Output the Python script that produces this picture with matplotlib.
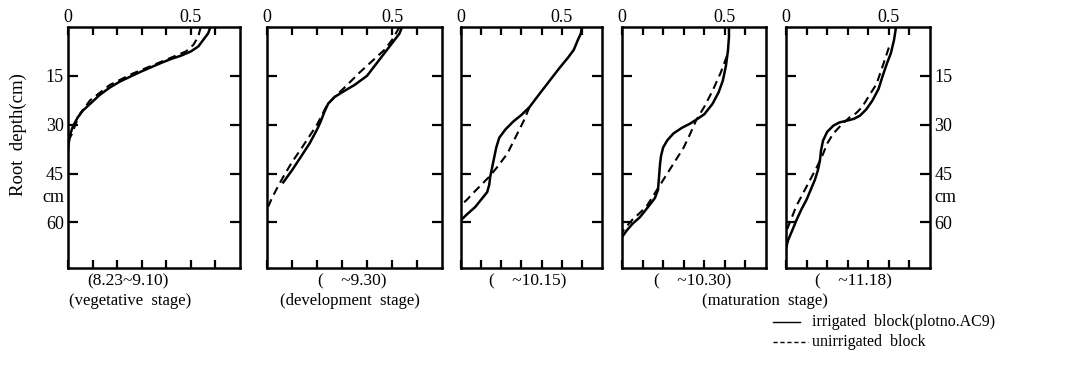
import matplotlib
matplotlib.use('Agg')
import matplotlib.pyplot as plt

plt.rcParams['font.family'] = ['Liberation Serif', 'DejaVu Serif']

# root density vs depth (x value, depth cm)
irr1_x = [0.58, 0.57, 0.55, 0.53, 0.50, 0.46, 0.42, 0.38, 0.34, 0.30, 0.26, 0.21, 0.17, 0.13, 0.09, 0.06, 0.04, 0.02, 0.01, 0.003, 0.0]
irr1_d = [0.0, 2.0, 4.0, 6.0, 7.5, 8.8, 9.8, 11.0, 12.3, 13.6, 15.0, 16.8, 18.6, 20.8, 23.6, 25.7, 27.7, 30.5, 32.7, 35.5, 38.0]
unr1_x = [0.54, 0.53, 0.51, 0.48, 0.42, 0.34, 0.26, 0.17, 0.09, 0.05, 0.03, 0.015, 0.0]
unr1_d = [0.0, 3.0, 5.5, 7.5, 9.4, 11.9, 14.4, 17.8, 22.5, 26.5, 30.0, 33.0, 35.0]

irr2_x = [0.54, 0.53, 0.51, 0.48, 0.44, 0.40, 0.35, 0.31, 0.27, 0.245, 0.23, 0.215, 0.20, 0.17, 0.13, 0.10, 0.065]
irr2_d = [0.0, 2.0, 4.0, 7.0, 11.0, 15.0, 17.8, 19.6, 21.5, 23.5, 26.0, 29.0, 31.5, 35.8, 40.5, 44.0, 47.7]
unr2_x = [0.53, 0.50, 0.47, 0.42, 0.37, 0.31, 0.27, 0.24, 0.22, 0.20, 0.17, 0.14, 0.10, 0.065, 0.04, 0.02, 0.0]
unr2_d = [0.0, 4.0, 7.0, 10.5, 14.0, 18.6, 21.5, 24.0, 27.0, 30.0, 33.5, 37.0, 41.5, 46.0, 49.5, 52.5, 56.0]

irr3_x = [0.60, 0.595, 0.58, 0.56, 0.53, 0.49, 0.44, 0.39, 0.34, 0.30, 0.26, 0.22, 0.19, 0.175, 0.165, 0.155, 0.145, 0.14, 0.13, 0.10, 0.07, 0.03, 0.0]
irr3_d = [0.0, 2.0, 4.0, 7.0, 9.5, 12.5, 16.5, 20.5, 24.6, 27.0, 29.0, 31.5, 34.0, 37.0, 40.0, 43.0, 46.0, 48.5, 50.7, 53.0, 55.3, 57.5, 59.3]
unr3_x = [0.34, 0.31, 0.28, 0.23, 0.18, 0.14, 0.10, 0.06, 0.03, 0.0]
unr3_d = [24.6, 29.0, 32.7, 38.9, 43.0, 46.0, 48.5, 51.0, 53.0, 54.7]

irr4_x = [0.52, 0.52, 0.515, 0.505, 0.49, 0.47, 0.44, 0.40, 0.36, 0.33, 0.29, 0.25, 0.22, 0.20, 0.19, 0.185, 0.18, 0.175, 0.16, 0.13, 0.087, 0.05, 0.024, 0.0]
irr4_d = [0.0, 3.0, 7.3, 12.0, 16.5, 20.0, 23.6, 26.8, 28.5, 29.7, 31.0, 32.7, 34.8, 37.0, 39.5, 42.0, 46.0, 50.0, 52.5, 55.0, 58.4, 60.5, 62.4, 64.5]
unr4_x = [0.51, 0.48, 0.44, 0.40, 0.36, 0.33, 0.30, 0.265, 0.23, 0.20, 0.17, 0.145, 0.12, 0.085, 0.053, 0.025, 0.0]
unr4_d = [8.9, 14.0, 19.6, 24.5, 28.7, 33.0, 37.0, 40.5, 44.0, 47.0, 50.0, 52.5, 55.0, 57.2, 59.0, 61.0, 63.0]

irr5_x = [0.535, 0.525, 0.51, 0.49, 0.47, 0.45, 0.42, 0.39, 0.36, 0.33, 0.30, 0.26, 0.23, 0.20, 0.18, 0.17, 0.165, 0.155, 0.14, 0.12, 0.10, 0.075, 0.053, 0.03, 0.01, 0.0]
irr5_d = [0.0, 4.0, 8.0, 11.3, 15.0, 19.0, 22.6, 25.3, 27.2, 28.2, 28.7, 29.3, 30.3, 32.2, 34.9, 38.0, 41.0, 44.0, 47.0, 50.0, 53.0, 56.0, 59.0, 62.5, 65.5, 68.0]
unr5_x = [0.50, 0.47, 0.44, 0.40, 0.37, 0.34, 0.31, 0.27, 0.23, 0.20, 0.18, 0.165, 0.15, 0.125, 0.10, 0.075, 0.05, 0.025, 0.0]
unr5_d = [6.3, 12.0, 17.5, 21.5, 24.6, 26.5, 27.7, 30.0, 32.7, 35.8, 39.0, 41.0, 43.0, 46.0, 49.0, 52.0, 55.0, 59.0, 63.0]

periods = ['(8.23~9.10)', '(    ~9.30)', '(    ~10.15)', '(    ~10.30)', '(    ~11.18)']
stages = ['(vegetative  stage)', '(development  stage)', '(maturation  stage)']
legend_labels = ['irrigated  block(plotno.AC9)', 'unirrigated  block']

irr = [(irr1_x, irr1_d), (irr2_x, irr2_d), (irr3_x, irr3_d), (irr4_x, irr4_d), (irr5_x, irr5_d)]
unr = [(unr1_x, unr1_d), (unr2_x, unr2_d), (unr3_x, unr3_d), (unr4_x, unr4_d), (unr5_x, unr5_d)]

W, H = 1085, 387
fig = plt.figure(figsize=(W / 100, H / 100), dpi=100)

# panel boxes in pixels: left, width
boxes = [(68, 172), (267, 175), (461, 141), (622, 144), (786, 144)]
period_x = [128, 352, 528, 693, 853]
top_px, bot_px = 27, 268

for i, (left, width) in enumerate(boxes):
    ax = fig.add_axes([left / W, 1 - bot_px / H, width / W, (bot_px - top_px) / H])
    ax.plot(irr[i][0], irr[i][1], color='black', lw=1.8, ls='-')
    ax.plot(unr[i][0], unr[i][1], color='black', lw=1.5, ls=(0, (4, 2.5)))
    ax.set_xlim(0, 0.7)
    ax.set_ylim(74, 0)
    for s in ax.spines.values():
        s.set_linewidth(1.8)
    ax.set_xticks([0, 0.1, 0.2, 0.3, 0.4, 0.5, 0.6])
    ax.set_xticklabels(['0', '', '', '', '', '0.5', ''])
    ax.xaxis.tick_top()
    ax.tick_params(axis='x', which='both', direction='in', top=True, bottom=True,
                   length=6, width=1.6, labelsize=13, pad=1)
    ax.set_yticks([15, 30, 45, 60])
    ax.tick_params(axis='y', direction='in', left=True, right=True,
                   length=7, width=1.6, labelsize=13, pad=3,
                   labelleft=(i == 0), labelright=(i == 4))
    fig.text(period_x[i] / W, 1 - 281 / H, periods[i], ha='center', va='center', fontsize=12.5)
    if i == 0:
        ax.text(-0.02, 52.5, 'cm', transform=ax.get_yaxis_transform(), ha='right', va='center', fontsize=13)
    if i == 4:
        ax.text(1.03, 52.5, 'cm', transform=ax.get_yaxis_transform(), ha='left', va='center', fontsize=13)

fig.text(18 / W, 1 - 135 / H, 'Root  depth(cm)', rotation=90, ha='center', va='center', fontsize=13.5)

stage_x = [130, 350, 765]
for sx, st in zip(stage_x, stages):
    fig.text(sx / W, 1 - 301 / H, st, ha='center', va='center', fontsize=12)

# legend drawn by hand under the last panels
fig.add_artist(plt.Line2D([773 / W, 800 / W], [1 - 322 / H] * 2, color='black', lw=1.0))
fig.add_artist(plt.Line2D([773 / W, 808 / W], [1 - 342 / H] * 2, color='black', lw=1.0, ls=(0, (3, 2))))
fig.text(812 / W, 1 - 322 / H, legend_labels[0], ha='left', va='center', fontsize=11.5)
fig.text(812 / W, 1 - 342 / H, legend_labels[1], ha='left', va='center', fontsize=11.5)

fig.savefig('out.png', dpi=100)
